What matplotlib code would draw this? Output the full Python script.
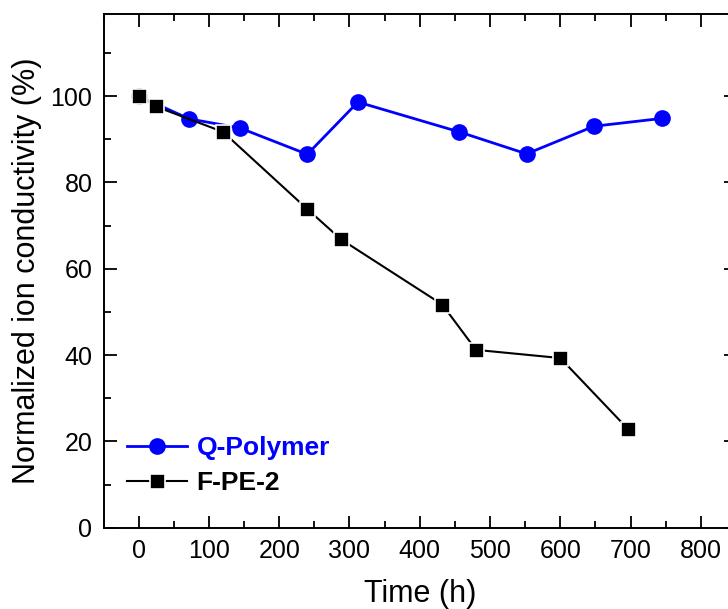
import numpy as np
import matplotlib
matplotlib.use("Agg")
import matplotlib.pyplot as plt
from matplotlib.ticker import MultipleLocator

plt.rcParams['font.family'] = ['Liberation Sans', 'DejaVu Sans']

# Q-Polymer (blue circles)
q_time = [0, 72, 144, 240, 312, 456, 552, 648, 744]
q_cond = [100, 94.7, 92.6, 86.5, 98.6, 91.7, 86.6, 93.0, 94.8]

# F-PE-2 (black squares)
f_time = [0, 24, 120, 240, 288, 432, 480, 600, 696]
f_cond = [100, 97.6, 91.7, 73.8, 66.8, 51.7, 41.2, 39.3, 22.9]

fig = plt.figure(figsize=(7.28, 6.09), dpi=100)
# right spine sits just past the figure edge, as in the cropped original
ax = fig.add_axes([103.5 / 728, 81.3 / 609, (736 - 103.5) / 728, (527.7 - 14) / 609])

ax.plot(q_time, q_cond, '-o', color='blue', lw=2, ms=11, label='Q-Polymer', zorder=3)
ax.plot(f_time, f_cond, '-s', color='black', lw=1.5, ms=10.8,
        mec='white', mew=1.2, label='F-PE-2', zorder=4)

ax.set_xlim(-50, 850)
ax.set_ylim(0, 119)
ax.xaxis.set_minor_locator(MultipleLocator(50))
ax.yaxis.set_minor_locator(MultipleLocator(10))
ax.set_xticks(np.arange(0, 801, 100))
ax.set_yticks(np.arange(0, 101, 20))

ax.tick_params(which='both', direction='in', top=True, right=True, width=1.3,
               labelsize=18, pad=8)
ax.tick_params(which='major', length=9)
ax.tick_params(which='minor', length=5)
for sp in ax.spines.values():
    sp.set_linewidth(1.4)

ax.set_xlabel('Time (h)', fontsize=22, labelpad=11.5)
ax.set_ylabel('Normalized ion conductivity (%)', fontsize=22, labelpad=6)

leg = ax.legend(loc='lower left', bbox_to_anchor=(0.02, 0.043), frameon=False,
                fontsize=19, handlelength=2.27, handletextpad=0.38,
                labelspacing=0.42, borderaxespad=0)
for txt, col in zip(leg.get_texts(), ['blue', 'black']):
    txt.set_color(col)
    txt.set_fontweight('bold')

fig.savefig('out.png', dpi=100)
